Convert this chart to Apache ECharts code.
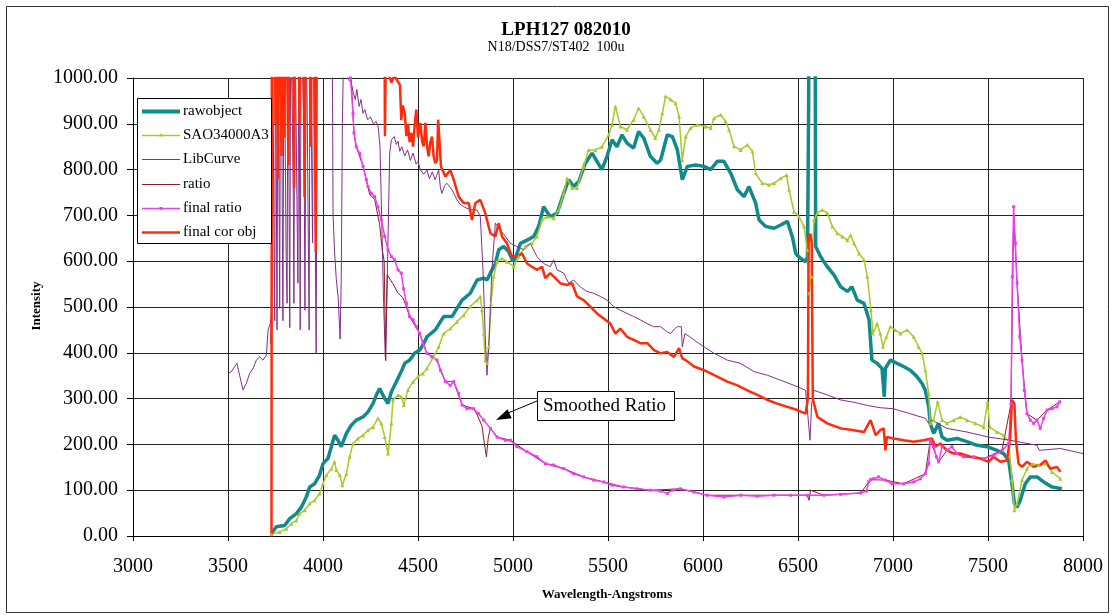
<!DOCTYPE html>
<html>
<head>
<meta charset="utf-8">
<title>LPH127 082010</title>
<script src="https://cdn.jsdelivr.net/npm/echarts@6.0.0/dist/echarts.min.js"></script>
<style>
  html, body { margin: 0; padding: 0; background: #fff; }
  #chart { width: 1114px; height: 616px; }
</style>
</head>
<body>
<div id="chart"></div>
<script>
// series names, in legend order
const seriesNames = ['rawobject', 'SAO34000A3', 'LibCurve', 'ratio', 'final ratio', 'final cor obj'];

// [wavelength, intensity]; values above 1000 run off the top of the plot
const rawObject = [
  [3728,5],[3754,20],[3798,23],[3825,38],[3860,49],[3886,63],[3912,85],[3930,107],[3956,114],[3982,133],
  [4000,158],[4026,169],[4044,195],[4061,220],[4079,209],[4096,195],[4123,224],[4149,242],[4175,253],[4211,260],
  [4237,271],[4263,289],[4281,308],[4298,322],[4325,300],[4342,289],[4360,315],[4386,337],[4412,359],[4430,377],
  [4456,384],[4482,399],[4509,406],[4530,420],[4547,435],[4591,450],[4635,479],[4679,479],[4705,497],[4732,515],
  [4775,530],[4811,559],[4846,563],[4863,559],[4881,574],[4907,595],[4925,625],[4951,632],[4977,621],[5000,600],
  [5012,606],[5039,639],[5074,646],[5109,654],[5135,676],[5161,719],[5196,697],[5232,705],[5267,748],[5293,778],
  [5319,763],[5346,774],[5381,814],[5416,836],[5442,818],[5468,800],[5495,829],[5521,865],[5547,850],[5574,876],
  [5600,858],[5635,847],[5661,883],[5688,869],[5723,829],[5758,814],[5777,821],[5812,876],[5839,872],[5865,843],
  [5891,778],[5918,807],[5961,810],[6005,807],[6040,800],[6075,818],[6110,818],[6146,792],[6181,756],[6216,741],
  [6242,763],[6277,727],[6295,690],[6330,676],[6374,672],[6409,679],[6444,687],[6470,654],[6488,617],[6514,606],
  [6540,599],[6550,610],[6556,940],[6560,1500],[6588,1500],[6593,632],[6619,610],[6654,588],[6689,570],[6725,544],
  [6760,534],[6784,544],[6812,515],[6847,508],[6874,472],[6889,384],[6916,377],[6942,366],[6950,370],[6954,304],
  [6960,366],[6965,362],[6986,384],[7021,377],[7056,370],[7091,362],[7126,348],[7153,333],[7170,318],[7188,282],
  [7196,246],[7214,224],[7240,246],[7258,216],[7284,209],[7337,213],[7389,206],[7442,198],[7495,195],[7547,187],
  [7582,180],[7609,165],[7626,114],[7639,71],[7653,63],[7670,78],[7696,114],[7723,129],[7758,129],[7793,118],
  [7837,107],[7889,103]
];

const sao34000A3 = [
  [3728,4],[3772,9],[3807,16],[3833,27],[3860,34],[3877,49],[3904,56],[3930,71],[3956,78],[3982,93],
  [4000,114],[4018,133],[4044,147],[4061,162],[4070,144],[4088,133],[4102,111],[4123,136],[4140,173],[4158,202],
  [4184,213],[4211,220],[4237,231],[4263,238],[4289,257],[4307,246],[4325,216],[4342,180],[4360,246],[4368,297],
  [4395,308],[4412,304],[4425,286],[4447,319],[4474,337],[4500,348],[4526,355],[4547,366],[4582,391],[4609,413],
  [4635,442],[4670,453],[4705,468],[4740,482],[4775,501],[4811,515],[4828,523],[4837,493],[4846,442],[4854,384],
  [4863,377],[4872,413],[4884,508],[4898,566],[4916,599],[4942,606],[4968,599],[5004,588],[5030,610],[5065,632],
  [5100,639],[5126,654],[5153,690],[5179,697],[5214,694],[5240,712],[5267,748],[5284,781],[5311,760],[5337,760],
  [5372,807],[5398,843],[5433,843],[5468,850],[5504,876],[5521,898],[5539,938],[5565,894],[5600,887],[5635,909],
  [5661,934],[5688,916],[5723,887],[5749,869],[5768,887],[5786,923],[5803,960],[5830,953],[5856,945],[5874,916],
  [5891,821],[5909,872],[5935,891],[5970,898],[6014,894],[6040,891],[6058,912],[6093,920],[6119,905],[6137,887],
  [6163,851],[6198,843],[6233,854],[6260,840],[6277,792],[6312,770],[6347,767],[6374,770],[6409,781],[6440,788],
  [6453,756],[6479,708],[6505,697],[6532,676],[6549,625],[6558,530],[6570,566],[6584,690],[6602,705],[6628,712],
  [6654,705],[6681,676],[6707,661],[6733,654],[6760,646],[6777,657],[6795,639],[6821,617],[6847,603],[6865,566],
  [6884,493],[6895,442],[6916,464],[6933,442],[6947,413],[6965,435],[6986,457],[7012,450],[7039,442],[7074,450],
  [7109,435],[7135,413],[7153,399],[7170,362],[7188,311],[7196,246],[7214,253],[7235,293],[7258,253],[7284,246],
  [7319,253],[7354,260],[7389,253],[7433,246],[7477,238],[7498,293],[7509,238],[7547,227],[7582,220],[7609,206],
  [7626,122],[7639,56],[7653,71],[7679,122],[7705,147],[7732,158],[7767,155],[7802,158],[7837,140],[7881,125]
];

const libCurve = [
  [3500,355],[3518,359],[3535,370],[3547,377],[3561,351],[3579,319],[3596,333],[3614,355],[3632,366],[3649,384],
  [3667,391],[3684,384],[3702,395],[3711,450],[3723,464],[3730,490],
  [3735,1150],[3741,700],[3746,470],[3750,1150],[3754,1150],[3758,450],[3763,1150],[3767,900],[3772,497],[3777,1150],
  [3784,840],[3789,470],[3795,1150],[3800,1150],[3806,620],[3811,508],[3816,1150],[3821,1150],[3825,455],[3830,1150],
  [3838,1150],[3843,780],[3847,508],[3852,1150],[3860,1150],[3864,690],[3868,552],[3873,1150],[3880,450],[3885,1150],
  [3893,1150],[3900,880],[3905,493],[3912,1150],[3920,1150],[3927,450],[3932,1150],[3940,1150],[3945,640],[3950,1150],
  [3958,1150],[3964,400],[3970,1150],
  [4048,1150],[4053,700],[4061,620],[4070,560],[4080,520],[4090,430],[4096,560],[4102,900],[4110,1100],[4125,1020],
  [4135,996],[4149,989],[4160,967],[4170,953],[4178,975],[4190,938],[4200,953],[4210,923],[4220,931],[4235,909],
  [4250,915],[4265,900],[4280,905],[4290,895],[4300,850],[4307,727],[4319,508],[4328,391],[4339,581],[4351,836],
  [4360,865],[4375,872],[4386,855],[4395,862],[4404,840],[4415,850],[4430,830],[4445,843],[4460,820],[4474,836],
  [4490,812],[4500,818],[4512,800],[4530,790],[4547,799],[4560,780],[4575,795],[4590,778],[4609,799],[4618,760],
  [4626,748],[4640,765],[4653,770],[4679,756],[4705,734],[4720,725],[4740,719],[4775,712],[4811,712],[4828,697],
  [4842,581],[4854,435],[4863,351],[4875,435],[4889,581],[4907,683],[4933,668],[4960,654],[4986,639],[5021,632],
  [5056,625],[5091,639],[5126,610],[5161,595],[5196,588],[5214,603],[5232,581],[5267,574],[5293,552],[5319,559],
  [5354,544],[5389,534],[5425,530],[5460,523],[5495,515],[5530,501],[5565,493],[5600,486],[5635,479],[5670,472],
  [5705,464],[5740,457],[5777,457],[5810,446],[5830,442],[5850,452],[5865,457],[5886,457],[5891,413],[5905,442],
  [5930,435],[5953,428],[6005,413],[6058,399],[6128,384],[6198,377],[6268,359],[6339,351],[6409,340],[6479,329],
  [6540,318],[6554,253],[6563,209],[6572,289],[6584,318],[6654,308],[6725,297],[6795,292],[6865,285],[6935,280],
  [7000,278],[7091,267],[7170,257],[7188,246],[7205,253],[7284,235],[7389,227],[7503,216],[7617,209],[7758,198],
  [7770,187],[7881,191],[8000,180]
];

const ratio = [
  [3724,420],[3728,470],[3733,1300],[4120,1300],[4148,1000],[4163,880],[4175,850],[4211,807],[4246,745],[4272,735],
  [4298,680],[4312,624],[4322,600],[4330,383],[4338,570],[4368,551],[4395,530],[4421,520],[4439,500],[4456,479],
  [4509,442],[4547,399],[4600,384],[4644,337],[4688,337],[4732,286],[4793,278],[4811,265],[4837,240],[4850,200],
  [4860,173],[4870,215],[4881,235],[4916,216],[4986,209],[5074,184],[5170,158],[5267,147],[5372,129],[5477,118],
  [5582,107],[5723,100],[5881,103],[6023,89],[6198,89],[6374,89],[6549,89],[6558,78],[6566,100],[6637,89],
  [6830,94],[6882,123],[6960,122],[7056,114],[7170,136],[7196,209],[7240,162],[7284,187],[7372,173],[7477,169],
  [7574,187],[7621,289],[7635,700],[7653,552],[7679,384],[7705,267],[7758,253],[7811,275],[7877,293]
];

const finalRatio = [
  [4110,1300],[4145,1000],[4158,922],[4163,880],[4175,850],[4193,835],[4211,807],[4228,778],[4237,763],[4254,748],
  [4272,741],[4289,719],[4307,690],[4325,654],[4342,625],[4360,610],[4377,603],[4395,581],[4412,574],[4424,540],
  [4439,508],[4456,479],[4474,472],[4491,457],[4509,442],[4526,420],[4547,399],[4574,391],[4600,384],[4618,362],
  [4644,337],[4670,329],[4688,337],[4714,311],[4732,286],[4758,278],[4793,278],[4819,267],[4846,253],[4881,235],
  [4916,216],[4960,209],[4986,209],[5021,195],[5074,184],[5126,173],[5170,158],[5214,155],[5267,147],[5319,136],
  [5372,129],[5425,122],[5477,118],[5521,111],[5582,107],[5653,103],[5723,100],[5775,98],[5812,93],[5840,100],
  [5881,103],[5953,96],[6023,89],[6110,85],[6198,89],[6286,87],[6374,89],[6461,89],[6549,89],[6637,89],
  [6725,91],[6830,94],[6860,98],[6872,118],[6882,123],[6898,125],[6924,129],[6960,122],[6995,114],[7056,114],
  [7109,118],[7144,125],[7170,136],[7188,158],[7196,209],[7214,195],[7228,173],[7240,162],[7258,195],[7284,187],
  [7310,195],[7337,180],[7372,173],[7425,173],[7477,169],[7530,176],[7574,187],[7609,202],[7621,289],[7628,566],
  [7635,719],[7644,639],[7653,552],[7667,435],[7679,384],[7691,318],[7705,267],[7723,253],[7740,246],[7758,253],
  [7775,235],[7793,257],[7811,275],[7837,278],[7863,282],[7877,293]
];

const finalCorObj = [
  [3729,0],[3731,1300],[3745,1300],[3750,900],[3756,1300],[3763,780],[3768,1300],[3776,1300],[3782,830],[3788,1300],
  [3797,870],[3803,1300],[3812,1300],[3818,810],[3825,1300],[3840,1300],[3848,760],[3855,1300],[3868,1300],[3876,900],
  [3882,1300],[3895,1300],[3903,740],[3910,1300],[3925,1300],[3935,850],[3942,1300],[3955,1300],[3962,620],[3968,1300],
  [4322,1300],[4326,873],[4332,1100],[4345,1010],[4360,990],[4375,1005],[4390,995],[4405,985],[4412,908],[4420,940],
  [4430,923],[4439,873],[4447,900],[4456,860],[4465,880],[4474,850],[4483,900],[4491,931],[4500,870],[4512,902],
  [4522,860],[4530,851],[4539,902],[4548,850],[4556,829],[4565,860],[4574,872],[4582,830],[4591,814],[4600,820],
  [4606,909],[4612,870],[4621,807],[4644,785],[4670,799],[4688,778],[4714,741],[4740,727],[4767,727],[4784,690],
  [4802,727],[4828,734],[4854,705],[4881,661],[4907,654],[4925,683],[4942,654],[4968,639],[4995,610],[5021,610],
  [5047,617],[5074,595],[5100,588],[5126,581],[5153,588],[5170,563],[5196,574],[5223,563],[5249,552],[5284,548],
  [5311,552],[5337,523],[5372,515],[5407,501],[5442,486],[5477,475],[5512,464],[5539,442],[5565,453],[5600,435],
  [5635,428],[5670,421],[5707,421],[5742,406],[5777,399],[5812,402],[5847,391],[5874,410],[5891,388],[5909,384],
  [5953,370],[6005,362],[6040,355],[6075,348],[6128,337],[6181,329],[6233,318],[6286,308],[6339,297],[6391,289],
  [6444,282],[6496,275],[6540,267],[6552,300],[6556,650],[6565,660],[6572,640],[6578,300],[6584,289],[6602,260],
  [6654,246],[6725,235],[6795,231],[6847,227],[6882,253],[6909,220],[6933,231],[6951,235],[6960,187],[6968,216],
  [7004,213],[7056,209],[7109,206],[7161,209],[7205,213],[7223,195],[7249,202],[7284,187],[7319,180],[7354,180],
  [7407,173],[7460,169],[7503,162],[7530,173],[7565,162],[7600,165],[7617,216],[7626,297],[7639,289],[7647,209],
  [7661,158],[7679,151],[7705,162],[7740,151],[7775,155],[7802,165],[7828,147],[7863,151],[7881,140]
];

const SERIF = 'Liberation Serif';

// colours / widths per series, same order as seriesNames
const colors = ['#138a8a', '#a6ca2a', '#80308a', '#8c1c2c', '#f03cf0', '#ff2b0a'];
const widths = [3.5, 1.5, 1, 1, 1.5, 2.5];
const symbols = ['none', 'triangle', 'none', 'none', 'rect', 'none'];
const symbolSizes = [0, 4, 0, 0, 3, 0];
const seriesData = [rawObject, sao34000A3, libCurve, ratio, finalRatio, finalCorObj];

const chart = echarts.init(document.getElementById('chart'));

const series = seriesNames.map((name, i) => ({
  name: name,
  type: 'line',
  data: seriesData[i],
  symbol: symbols[i],
  symbolSize: symbolSizes[i],
  showSymbol: symbols[i] !== 'none',
  lineStyle: { color: colors[i], width: widths[i] },
  itemStyle: { color: colors[i] },
  emphasis: { disabled: true }
}));

function txt(x, y, text, size, opts) {
  return Object.assign({
    type: 'text', x: x, y: y, silent: true, z: 20,
    style: Object.assign({
      text: text, fontFamily: SERIF, fontSize: size, fill: '#000',
      textAlign: 'center', textVerticalAlign: 'middle'
    }, (opts && opts.style) || {})
  }, (opts && opts.el) || {});
}

// legend box drawn by hand so the keys look like the Excel ones
const legendLeft = 138, legendTop = 98, rowH = 24.2, firstRow = 111;
const legendGraphics = [
  { type: 'rect', z: 19, silent: true,
    shape: { x: legendLeft - 0.5, y: legendTop + 0.5, width: 134, height: 145 },
    style: { fill: '#fff', stroke: '#000', lineWidth: 1 } }
];
seriesNames.forEach((name, i) => {
  const y = Math.round(firstRow + i * rowH) + 0.5;
  legendGraphics.push({ type: 'line', z: 20, silent: true,
    shape: { x1: 142, y1: y, x2: 180, y2: y },
    style: { stroke: colors[i], lineWidth: Math.max(widths[i], 1) + (i === 0 ? 0.5 : 0) } });
  if (symbols[i] === 'triangle') {
    legendGraphics.push({ type: 'polygon', z: 21, silent: true,
      shape: { points: [[161, y - 2.5], [163, y + 1], [159, y + 1]] },
      style: { fill: colors[i] } });
  } else if (symbols[i] === 'rect') {
    legendGraphics.push({ type: 'rect', z: 21, silent: true,
      shape: { x: 159.5, y: y - 1.5, width: 3, height: 3 },
      style: { fill: colors[i] } });
  }
  legendGraphics.push(txt(183, y, name, 15, { style: { textAlign: 'left' } }));
});

chart.setOption({
  animation: false,
  backgroundColor: '#fff',
  grid: { left: 133, right: 31, top: 78, bottom: 80, containLabel: false },
  xAxis: {
    type: 'value',
    min: 3000,
    max: 8000,
    interval: 500,
    axisLine: { lineStyle: { color: '#000', width: 1 } },
    axisTick: { show: true, length: 5, lineStyle: { color: '#000' } },
    axisLabel: {
      fontFamily: SERIF, fontSize: 20, color: '#000', margin: 21,
      formatter: v => String(v)
    },
    splitLine: { show: true, lineStyle: { color: '#222', width: 1 } }
  },
  yAxis: {
    type: 'value',
    min: 0,
    max: 1000,
    interval: 100,
    axisLine: { show: true, lineStyle: { color: '#000', width: 1 } },
    axisTick: { show: true, length: 6, lineStyle: { color: '#000' } },
    axisLabel: {
      fontFamily: SERIF, fontSize: 20, color: '#000', margin: 15,
      formatter: v => v.toFixed(2)
    },
    splitLine: { show: true, lineStyle: { color: '#222', width: 1 } }
  },
  series: series,
  graphic: [
    // outer chart border
    { type: 'rect', silent: true, shape: { x: 6.5, y: 6.5, width: 1102, height: 606 },
      style: { fill: 'none', stroke: '#333', lineWidth: 1 } },
    // title and subtitle
    txt(566, 30, 'LPH127 082010', 19, { style: { fontWeight: 'bold' } }),
    txt(556, 47, 'N18/DSS7/ST402  100u', 14),
    // axis titles
    txt(37, 306, 'Intensity', 13, { style: { fontWeight: 'bold' }, el: { rotation: Math.PI / 2 } }),
    txt(607, 595, 'Wavelength-Angstroms', 13, { style: { fontWeight: 'bold' } }),
    // "Smoothed Ratio" callout
    { type: 'line', silent: true, z: 10, shape: { x1: 537, y1: 401, x2: 508, y2: 413 },
      style: { stroke: '#000', lineWidth: 1 } },
    { type: 'polygon', silent: true, z: 10,
      shape: { points: [[496, 420], [507.5, 409.2], [511.7, 418.2]] },
      style: { fill: '#000' } },
    { type: 'rect', silent: true, z: 10, shape: { x: 537.5, y: 391.5, width: 137, height: 29 },
      style: { fill: '#fff', stroke: '#000', lineWidth: 1 } },
    txt(543, 406, 'Smoothed Ratio', 19, { style: { textAlign: 'left' } })
  ].concat(legendGraphics)
});
</script>
</body>
</html>
